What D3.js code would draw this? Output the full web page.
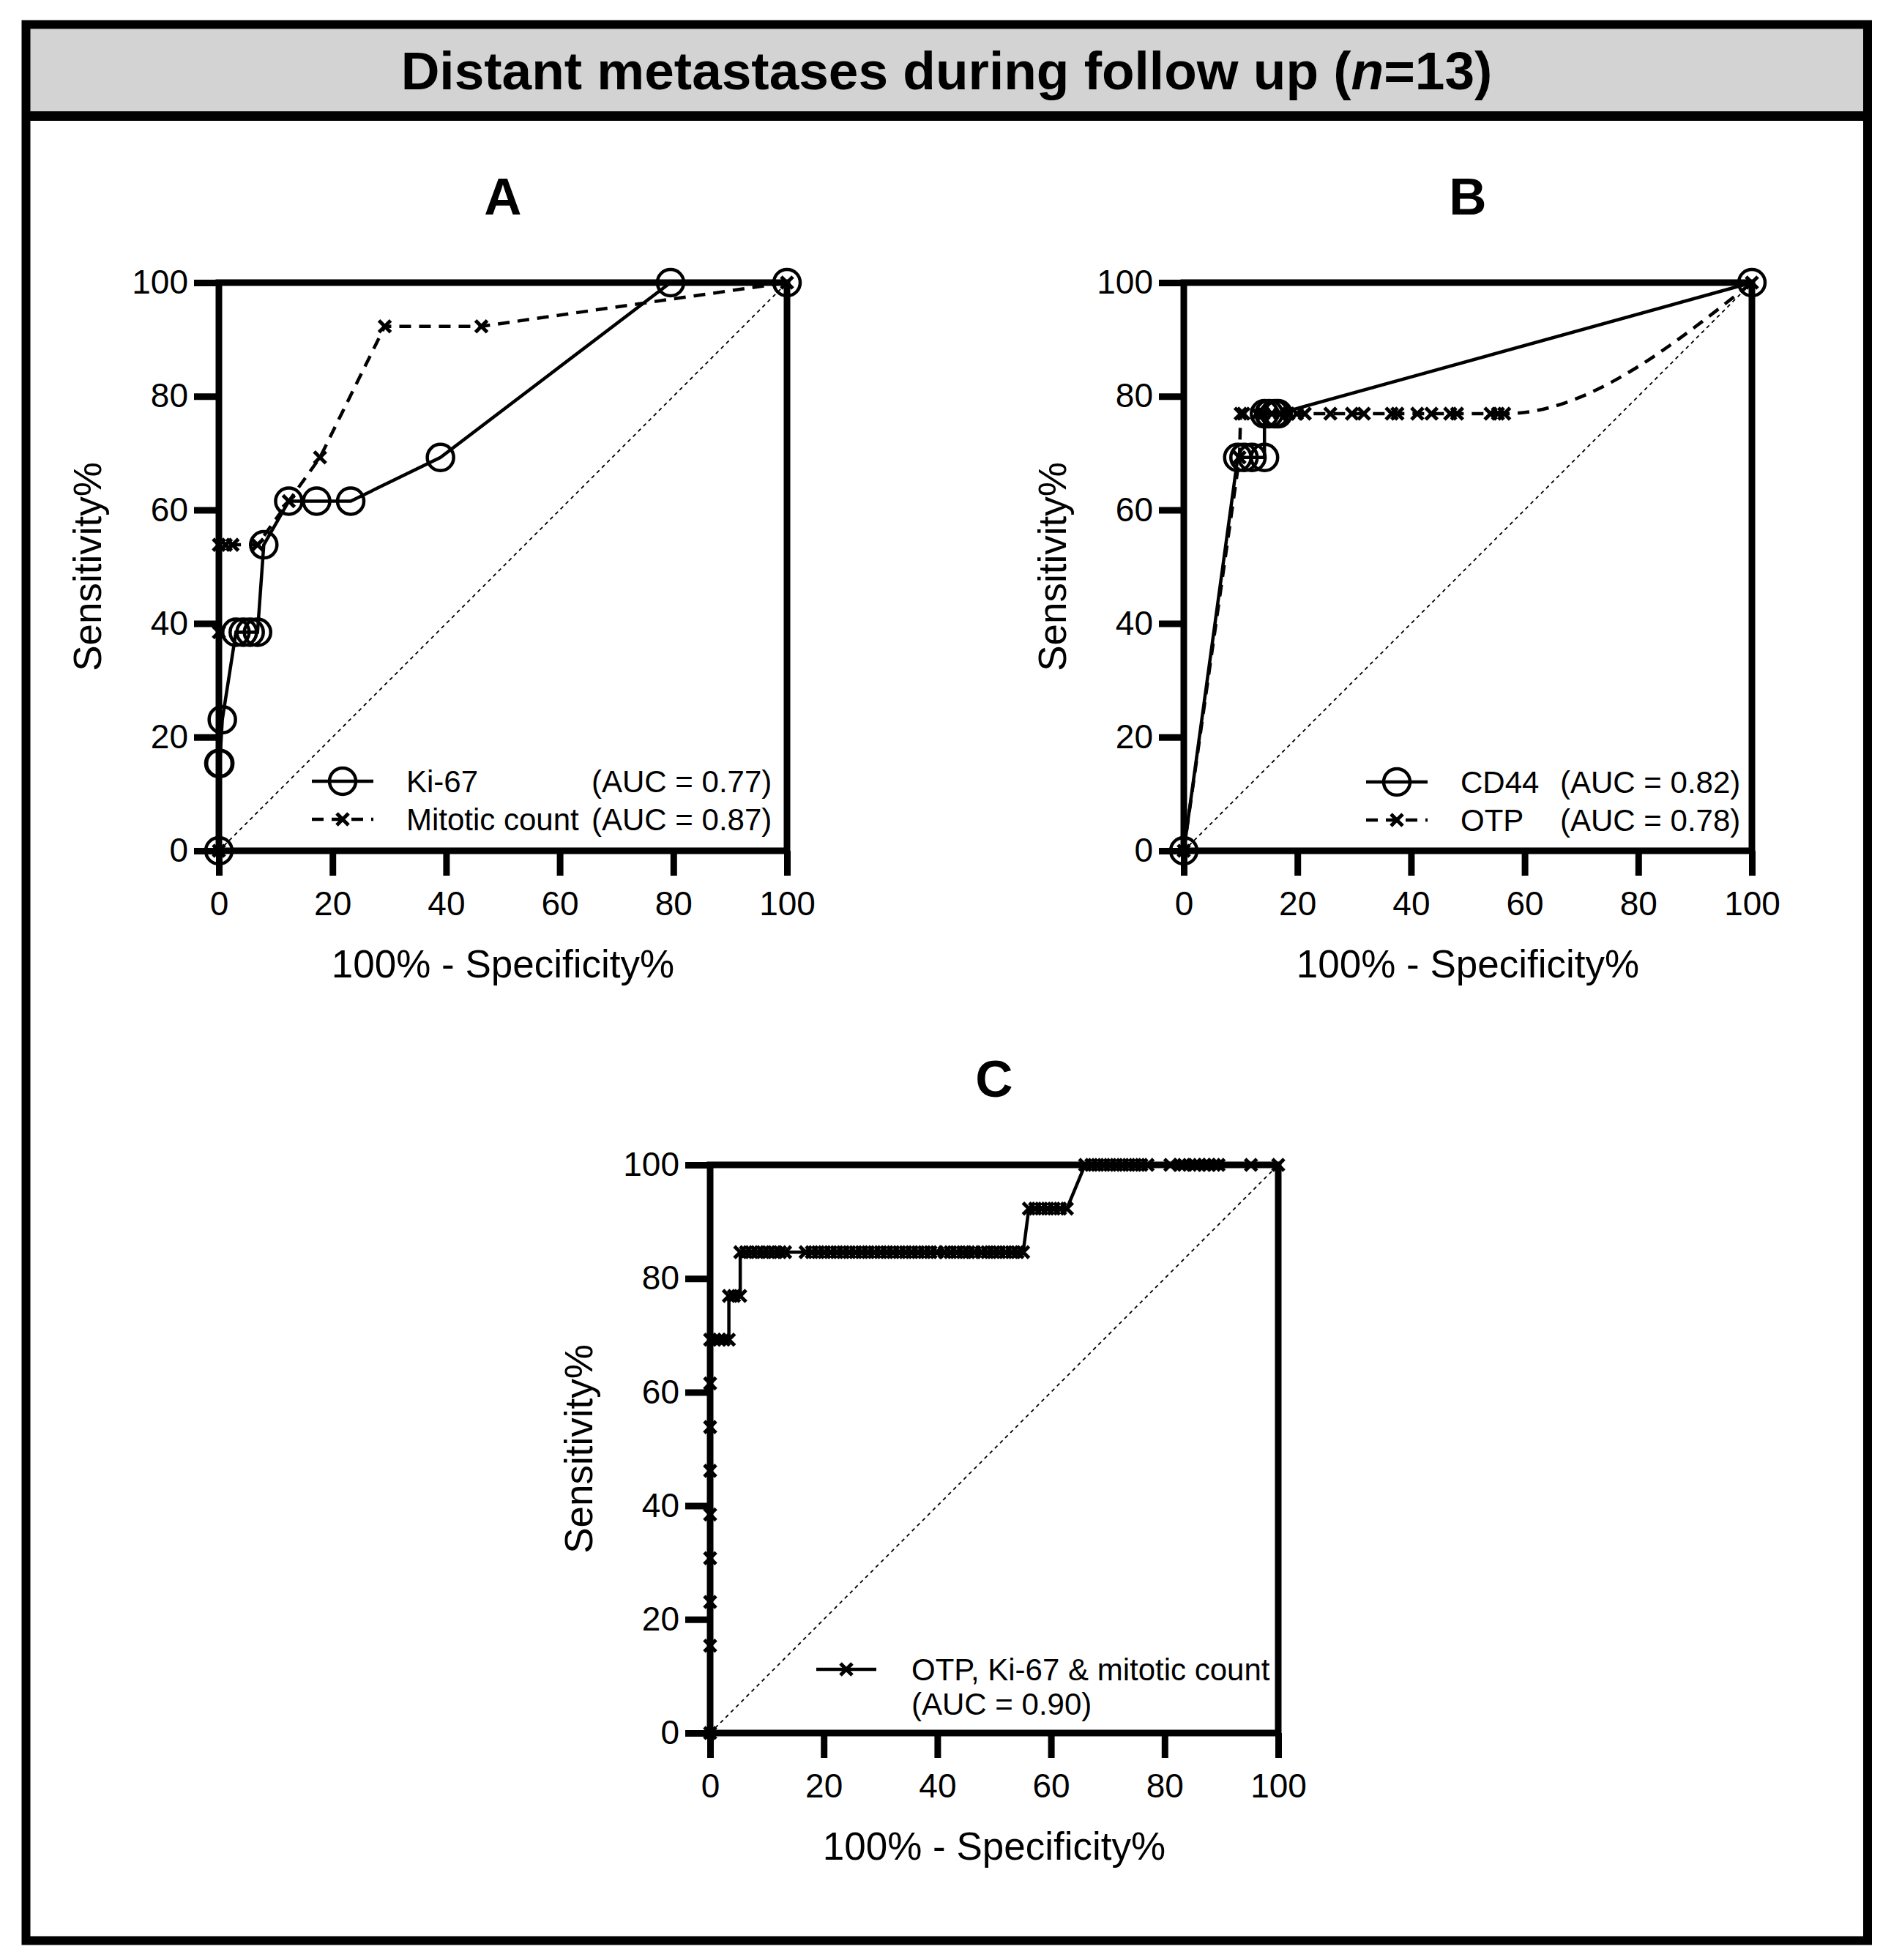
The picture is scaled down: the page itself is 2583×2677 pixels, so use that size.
<!DOCTYPE html>
<html lang="en">
<head>
<meta charset="utf-8">
<title>Distant metastases during follow up</title>
<style>
  body { margin: 0; background: #fff; }
  text { font-family: "Liberation Sans", Arial, sans-serif; }
</style>
</head>
<body>
<svg id="chart"></svg>
<script src="https://d3js.org/d3.v7.min.js"></script>
<script>
// ---- data (100% - specificity%, sensitivity%) ----
const ticks = [0, 20, 40, 60, 80, 100];
const chance = [[0, 0], [100, 100]];

// panel A
const ki67 = [[0, 0], [0, 15.38], [0.15, 15.38], [0.6, 23.08], [3.0, 38.46], [4.3, 38.46], [5.5, 38.46],
  [6.8, 38.46], [7.9, 53.85], [12.3, 61.54], [17.2, 61.54], [23.2, 61.54], [39.0, 69.23], [79.5, 100], [100, 100]];
const mitotic = [[0, 0], [0, 38.46], [0, 53.85], [1.2, 53.85], [2.4, 53.85], [6.8, 53.85], [12.3, 61.54],
  [17.8, 69.23], [29.2, 92.31], [46.2, 92.31], [100, 100]];

// panel B
const cd44 = [[0, 0], [9.5, 69.23], [10.6, 69.23], [12.0, 69.23], [14.2, 69.23], [14.2, 76.92], [15.0, 76.92],
  [16.0, 76.92], [16.6, 76.92], [100, 100]];
const otp = [[0, 0], [9.8, 69.23], [10.0, 76.92], [10.5, 76.92], [12.9, 76.92], [14.0, 76.92], [15.5, 76.92],
  [17.0, 76.92], [18.4, 76.92], [19.9, 76.92], [21.3, 76.92], [25.8, 76.92], [29.6, 76.92], [31.7, 76.92],
  [36.6, 76.92], [37.6, 76.92], [41.1, 76.92], [43.6, 76.92], [46.9, 76.92], [48.1, 76.92], [54.0, 76.92],
  [55.3, 76.92], [56.4, 76.92], [100, 100]];

// panel C, x values grouped by sensitivity level
const comboSens = [0, 15.38, 23.08, 30.77, 38.46, 46.15, 53.85, 61.54, 69.23, 76.92, 84.62, 92.31, 100];
const comboFpr = [
  [0], [0], [0], [0], [0], [0], [0], [0],
  [0, 0.8, 1.6, 2.4, 3.3],
  [3.3, 4.2, 5.3],
  [5.3, 6.3, 7.3, 8.3, 9.3, 10.3, 11.3, 12.3, 13.2, 16.8, 17.9, 19.0, 20.1, 21.2, 22.3, 23.4, 24.5, 25.6,
    26.7, 27.8, 28.9, 30.0, 31.1, 32.2, 33.3, 34.4, 35.5, 36.6, 37.7, 38.8, 39.9, 41.3, 42.3, 43.4, 44.5,
    45.5, 46.5, 47.8, 48.8, 49.9, 50.9, 52.0, 53.1, 54.1, 55.1],
  [56.1, 57.2, 58.3, 59.4, 60.5, 61.6, 62.8],
  [66.0, 67.1, 68.2, 69.3, 70.4, 71.5, 72.6, 73.7, 74.8, 75.9, 77.0, 81.0, 82.7, 83.4, 85.3, 86.1, 87.0,
    87.8, 88.7, 89.5, 95.2, 100]
];
const combo = [];
comboSens.forEach((s, i) => comboFpr[i].forEach(f => combo.push([f, s])));

const labelsA = ['Ki-67', 'Mitotic count'];
const aucA = ['(AUC = 0.77)', '(AUC = 0.87)'];
const labelsB = ['CD44', 'OTP'];
const aucB = ['(AUC = 0.82)', '(AUC = 0.78)'];
const labelsC = ['OTP, Ki-67 & mitotic count', '(AUC = 0.90)'];

// ---- drawing ----
const W = 2583, H = 2677, SIZE = 776;
const svg = d3.select('#chart').attr('width', W).attr('height', H);

// outer frame + title bar
svg.append('rect').attr('x', 41).attr('y', 40).attr('width', 2504).attr('height', 112).attr('fill', '#d3d3d3');
svg.append('rect').attr('x', 35.5).attr('y', 33.5).attr('width', 2515.5).attr('height', 2617)
  .attr('fill', 'none').attr('stroke', '#000').attr('stroke-width', 12);
svg.append('line').attr('x1', 30).attr('x2', 2557).attr('y1', 158.5).attr('y2', 158.5)
  .attr('stroke', '#000').attr('stroke-width', 13);
const title = svg.append('text').attr('x', 1293).attr('y', 122).attr('text-anchor', 'middle')
  .attr('font-size', 73).attr('font-weight', 'bold');
title.append('tspan').text('Distant metastases during follow up (');
title.append('tspan').attr('font-style', 'italic').text('n');
title.append('tspan').text('=13)');

function marker(sel, type) {
  if (type === 'circle') {
    sel.append('circle').attr('r', 18).attr('fill', 'none').attr('stroke', '#000').attr('stroke-width', 4.5);
  } else {
    sel.append('path').attr('d', 'M-8,-8L8,8M-8,8L8,-8').attr('fill', 'none')
      .attr('stroke', '#000').attr('stroke-width', 5);
  }
}

function panel(opt) {
  const x = d3.scaleLinear().domain([0, 100]).range([opt.x0, opt.x0 + SIZE]);
  const y = d3.scaleLinear().domain([0, 100]).range([opt.y0, opt.y0 - SIZE]);
  const g = svg.append('g');

  g.append('text').attr('x', (x(0) + x(100)) / 2).attr('y', y(100) - 93).attr('text-anchor', 'middle')
    .attr('font-size', 71).attr('font-weight', 'bold').text(opt.letter);

  const xa = g.append('g').attr('transform', 'translate(0,' + y(0) + ')')
    .call(d3.axisBottom(x).tickValues(ticks).tickSize(34).tickPadding(21));
  const ya = g.append('g').attr('transform', 'translate(' + x(0) + ',0)')
    .call(d3.axisLeft(y).tickValues(ticks).tickSize(34).tickPadding(8));
  [xa, ya].forEach(a => {
    a.select('.domain').remove();
    a.attr('font-size', 46).attr('font-family', '"Liberation Sans", Arial, sans-serif');
    a.selectAll('line').attr('stroke', '#000').attr('stroke-width', 9);
    a.selectAll('text').attr('fill', '#000');
  });
  g.append('rect').attr('x', x(0)).attr('y', y(100)).attr('width', SIZE).attr('height', SIZE)
    .attr('fill', 'none').attr('stroke', '#000').attr('stroke-width', 9);

  g.append('text').attr('x', (x(0) + x(100)) / 2).attr('y', y(0) + 173).attr('text-anchor', 'middle')
    .attr('font-size', 53).text('100% - Specificity%');
  g.append('text').attr('transform', 'translate(' + (x(0) - 161) + ',' + (y(0) + y(100)) / 2 + ') rotate(-90)')
    .attr('text-anchor', 'middle').attr('font-size', 53).text('Sensitivity%');

  g.append('path').datum(chance)
    .attr('d', d3.line().x(d => x(d[0])).y(d => y(d[1])))
    .attr('fill', 'none').attr('stroke', '#000').attr('stroke-width', 1.8).attr('stroke-dasharray', '5,5');

  opt.series.forEach(s => {
    const line = d3.line().x(d => x(d[0])).y(d => y(d[1]));
    const smoothLine = d3.line().x(d => x(d[0])).y(d => y(d[1])).curve(d3.curveMonotoneX);
    // smoothed series: straight segments, only the long last step is curved
    const straight = s.smooth ? s.data.slice(0, s.data.length - 1) : s.data;
    g.append('path').datum(straight).attr('d', line)
      .attr('fill', 'none').attr('stroke', '#000').attr('stroke-width', 4.5)
      .attr('stroke-dasharray', s.dashed ? '16,11' : null);
    if (s.smooth) {
      g.append('path').datum(s.data.slice(s.data.length - 3)).attr('d', smoothLine)
        .attr('fill', 'none').attr('stroke', '#000').attr('stroke-width', 4.5)
        .attr('stroke-dasharray', s.dashed ? '16,11' : null);
    }
    g.append('g').selectAll('g').data(s.data).join('g')
      .attr('transform', d => 'translate(' + x(d[0]) + ',' + y(d[1]) + ')')
      .each(function() { marker(d3.select(this), s.marker); });
  });

  // legend
  opt.series.forEach((s, i) => {
    const ly = y(0) + opt.legend.rows[i];
    const lg = g.append('g');
    lg.append('line').attr('x1', x(0) + opt.legend.sym[0]).attr('x2', x(0) + opt.legend.sym[1])
      .attr('y1', ly).attr('y2', ly).attr('stroke', '#000').attr('stroke-width', 4.5)
      .attr('stroke-dasharray', s.dashed ? '16,11' : null);
    const m = lg.append('g').attr('transform', 'translate(' + (x(0) + (opt.legend.sym[0] + opt.legend.sym[1]) / 2) + ',' + ly + ')');
    marker(m, s.marker);
  });
  opt.legend.text.forEach(t => {
    g.append('text').attr('x', x(0) + t.dx).attr('y', y(0) + t.dy).attr('dominant-baseline', 'central')
      .attr('font-size', 42).text(t.label);
  });
}

panel({
  letter: 'A', x0: 299, y0: 1162,
  series: [
    { data: ki67, marker: 'circle', dashed: false },
    { data: mitotic, marker: 'x', dashed: true }
  ],
  legend: {
    sym: [127, 211], rows: [-95, -43],
    text: [
      { label: labelsA[0], dx: 256, dy: -95 }, { label: aucA[0], dx: 509, dy: -95 },
      { label: labelsA[1], dx: 256, dy: -43 }, { label: aucA[1], dx: 509, dy: -43 }
    ]
  }
});

panel({
  letter: 'B', x0: 1617, y0: 1162,
  series: [
    { data: cd44, marker: 'circle', dashed: false },
    { data: otp, marker: 'x', dashed: true, smooth: true }
  ],
  legend: {
    sym: [249, 333], rows: [-94, -42],
    text: [
      { label: labelsB[0], dx: 378, dy: -94 }, { label: aucB[0], dx: 514, dy: -94 },
      { label: labelsB[1], dx: 378, dy: -42 }, { label: aucB[1], dx: 514, dy: -42 }
    ]
  }
});

panel({
  letter: 'C', x0: 970, y0: 2367,
  series: [
    { data: combo, marker: 'x', dashed: false }
  ],
  legend: {
    sym: [145, 227], rows: [-87],
    text: [
      { label: labelsC[0], dx: 275, dy: -87 }, { label: labelsC[1], dx: 275, dy: -40 }
    ]
  }
});
</script>
</body>
</html>
